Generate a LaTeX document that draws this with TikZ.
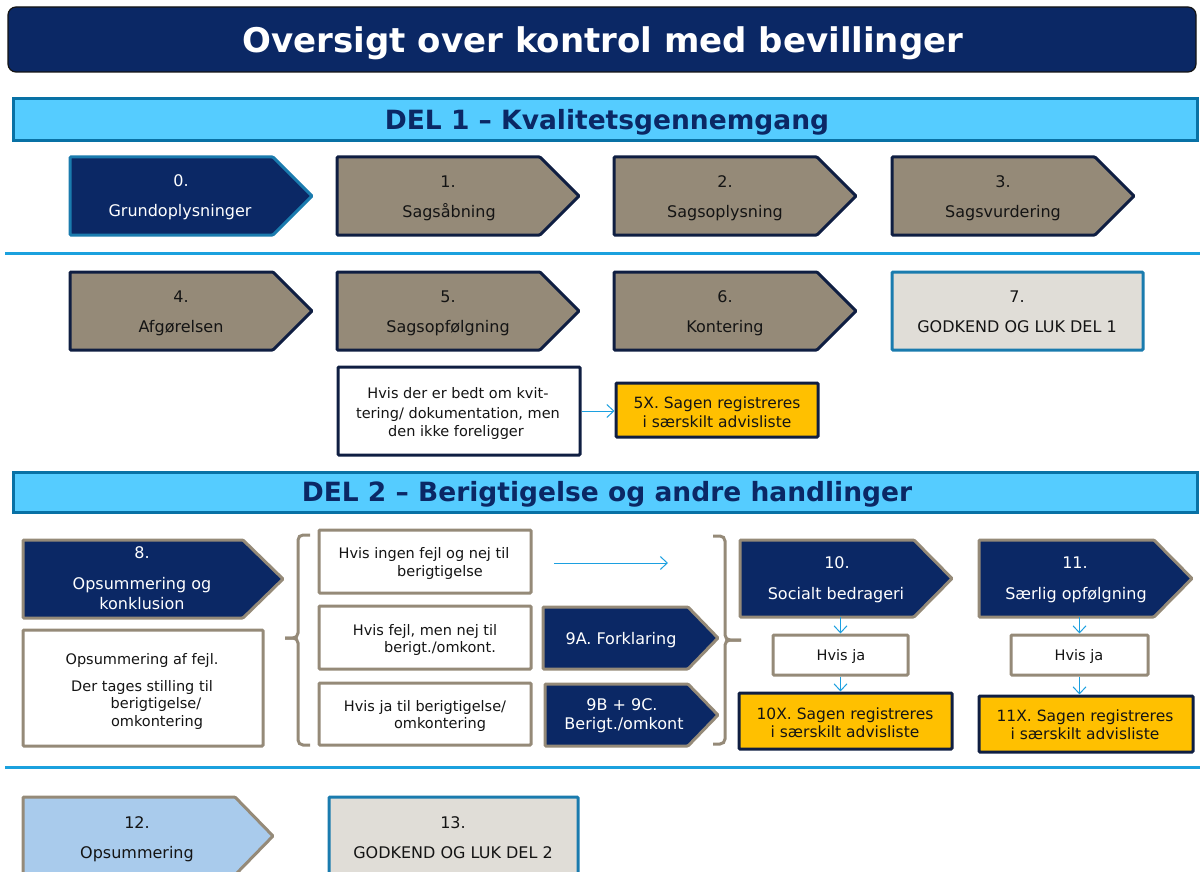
\documentclass[tikz,border=0pt]{standalone}
\usepackage{fontspec}
\setmainfont{DejaVu Sans}
\usetikzlibrary{arrows.meta,fit}

\definecolor{navy}{HTML}{0B2865}
\definecolor{inkdark}{HTML}{0F1E42}
\definecolor{taupe}{HTML}{958A78}
\definecolor{barfill}{HTML}{55CCFF}
\definecolor{barline}{HTML}{0871A5}
\definecolor{stepblue}{HTML}{1A7BAE}
\definecolor{paleground}{HTML}{E0DDD7}
\definecolor{advis}{HTML}{FFC000}
\definecolor{flow}{HTML}{1CA0E0}
\definecolor{rule}{HTML}{1BA1DE}
\definecolor{summary}{HTML}{A9CBEC}
\definecolor{ink}{HTML}{141414}

% shape with an arrow point on the right: name, style, x1, y1, x2, y2, point length
\newcommand\pent[7]{%
  \path[#2] (#3,#4) -- ({#5-#7},#4) -- (#5,{(#4+#6)/2}) -- ({#5-#7},#6) -- (#3,#6) -- cycle;
  \node[fit={(#3,#4) (#5,#6)}, inner sep=0pt] (#1) {};}
% plain box: name, style, corner, corner
\newcommand\rbox[4]{\node[fit={#3 #4}, inner sep=0pt, #2] (#1) {};}
% one line of text, centred on (x,y): options, name, x, y, text
\newcommand\txt[5][]{\node[lbl,#1] (#2) at (#3,#4) {#5};}

\tikzset{
  frame/.style={line width=3pt, rounded corners=1pt},
  darkstep/.style={frame, fill=navy, draw=stepblue},
  greystep/.style={frame, fill=taupe, draw=inkdark},
  navystep/.style={frame, fill=navy, draw=taupe},
  lightstep/.style={frame, fill=summary, draw=taupe},
  closebox/.style={frame, fill=paleground, draw=stepblue},
  notebox/.style={frame, fill=white, draw=inkdark},
  whitebox/.style={frame, fill=white, draw=taupe},
  advisbox/.style={frame, fill=advis, draw=inkdark},
  partbar/.style={line width=3pt, fill=barfill, draw=barline},
  lbl/.style={inner sep=0pt, anchor=center, text height=11.6pt, text depth=0pt, font=\fontsize{16}{19}\selectfont, text=ink},
  wtxt/.style={text=white},
  small/.style={font=\fontsize{14.5}{17}\selectfont, text height=10.6pt},
  adv/.style={font=\fontsize{15.5}{18}\selectfont, text height=11.3pt},
  conn/.style={draw=flow, line width=1pt, -{Straight Barb[length=7pt,width=13pt,line width=1pt]}},
  brace/.style={draw=taupe, line width=3pt, rounded corners=5pt},
  sepline/.style={draw=rule, line width=3pt},
  parttitle/.style={inner sep=0pt, anchor=base, text=navy, font=\fontsize{26.5}{31}\selectfont\bfseries}
}

\begin{document}
\begin{tikzpicture}[x=1pt,y=-1pt]
\useasboundingbox (0,0) rectangle (1200,872);
\clip (0,0) rectangle (1200,872);

% heading
\rbox{title}{fill=navy, draw=ink, line width=1.2pt, rounded corners=8pt}{(8,7)}{(1196,72)}
\node[inner sep=0pt, anchor=base, text=white, font=\fontsize{34}{40}\selectfont\bfseries] (titletext) at (603,52.4) {Oversigt over kontrol med bevillinger};

% part 1
\rbox{del1}{partbar}{(13,99)}{(1197,141)}
\node[parttitle] (del1text) at (607,129.5) {DEL 1 – Kvalitetsgennemgang};

\pent{s0}{darkstep}{70}{157}{312}{235}{39}
\pent{s1}{greystep}{337}{157}{579}{235}{39}
\pent{s2}{greystep}{614}{157}{856}{235}{39}
\pent{s3}{greystep}{892}{157}{1134}{235}{39}
\txt[wtxt]{s0a}{181}{181}{0.}
\txt[wtxt]{s0b}{180}{211}{Grundoplysninger}
\txt{s1a}{448}{182}{1.}
\txt{s1b}{449}{212}{Sagsåbning}
\txt{s2a}{725}{182}{2.}
\txt{s2b}{725}{212}{Sagsoplysning}
\txt{s3a}{1003}{182}{3.}
\txt{s3b}{1003}{212}{Sagsvurdering}

\draw[sepline] (5,253) -- (1200,253);

\pent{s4}{greystep}{70}{272}{312}{350}{39}
\pent{s5}{greystep}{337}{272}{579}{350}{39}
\pent{s6}{greystep}{614}{272}{856}{350}{39}
\rbox{s7}{closebox}{(892,272)}{(1143,350)}
\txt{s4a}{181}{297}{4.}
\txt{s4b}{181}{327}{Afgørelsen}
\txt{s5a}{448}{297}{5.}
\txt{s5b}{448}{327}{Sagsopfølgning}
\txt{s6a}{725}{297}{6.}
\txt{s6b}{725}{327}{Kontering}
\txt{s7a}{1017}{297}{7.}
\txt{s7b}{1017}{327}{GODKEND OG LUK DEL 1}

\rbox{note}{notebox}{(338,367)}{(580,455)}
\txt[small]{note1}{458}{393}{Hvis der er bedt om kvit-}
\txt[small]{note2}{458}{413}{tering/ dokumentation, men}
\txt[small]{note3}{456}{431}{den ikke foreligger}
\rbox{x5}{advisbox}{(616,383)}{(818,437)}
\txt[adv]{x5a}{717}{403}{5X. Sagen registreres}
\txt[adv]{x5b}{717}{422}{i særskilt advisliste}
\draw[conn] (note.east) -- (note.east -| x5.west);

% part 2
\rbox{del2}{partbar}{(13,472)}{(1197,512)}
\node[parttitle] (del2text) at (607,501.5) {DEL 2 – Berigtigelse og andre handlinger};

\pent{s8}{navystep}{23}{540}{283}{618}{40}
\txt[wtxt]{s8a}{142}{553}{8.}
\txt[wtxt]{s8b}{142}{584}{Opsummering og}
\txt[wtxt]{s8c}{142}{604}{konklusion}
\rbox{s8box}{whitebox}{(23,630)}{(263,746)}
\txt[small]{s8t1}{142}{659}{Opsummering af fejl.}
\txt[small]{s8t2}{142}{686}{Der tages stilling til}
\txt[small]{s8t3}{156}{703}{berigtigelse/}
\txt[small]{s8t4}{157}{721}{omkontering}

\draw[brace] (310,535) -| (298,638) -- (285,638);
\draw[brace] (285,638) -- (298,638) |- (310,745);
\draw[brace] (713,536) -| (725,640) -- (741,640);
\draw[brace] (741,640) -- (725,640) |- (713,744);

\rbox{ca}{whitebox}{(319,530)}{(531,593)}
\txt[small]{ca1}{424}{553}{Hvis ingen fejl og nej til}
\txt[small]{ca2}{440}{571}{berigtigelse}
\rbox{cb}{whitebox}{(319,606)}{(531,669)}
\txt[small]{cb1}{425}{630}{Hvis fejl, men nej til}
\txt[small]{cb2}{440}{647}{berigt./omkont.}
\rbox{cc}{whitebox}{(319,683)}{(531,745)}
\txt[small]{cc1}{425}{706}{Hvis ja til berigtigelse/}
\txt[small]{cc2}{440}{723}{omkontering}

\coordinate (skipfrom) at (554,563);
\coordinate (skipto) at (668,563);
\draw[conn] (skipfrom) -- (skipto);

\pent{s9a}{navystep}{543}{607}{718}{669}{30}
\txt[wtxt]{s9at}{621}{639}{9A. Forklaring}
\pent{s9bc}{navystep}{545}{684}{718}{746}{30}
\txt[wtxt]{s9bc1}{622}{705}{9B + 9C.}
\txt[wtxt]{s9bc2}{624}{724}{Berigt./omkont}

\pent{s10}{navystep}{740}{540}{952}{617}{38}
\txt[wtxt]{s10a}{837}{563}{10.}
\txt[wtxt]{s10b}{836}{594}{Socialt bedrageri}
\rbox{hj10}{whitebox}{(773,635)}{(908,675)}
\txt[small]{hj10t}{841}{655}{Hvis ja}
\rbox{x10}{advisbox}{(739,693)}{(952,749)}
\txt[adv]{x10a}{845}{714}{10X. Sagen registreres}
\txt[adv]{x10b}{845}{732}{i særskilt advisliste}
\draw[conn] (hj10.north |- s10.south) -- (hj10.north);
\draw[conn] (hj10.south) -- (hj10.south |- x10.north);

\pent{s11}{navystep}{979}{540}{1192}{617}{38}
\txt[wtxt]{s11a}{1075}{563}{11.}
\txt[wtxt]{s11b}{1076}{594}{Særlig opfølgning}
\rbox{hj11}{whitebox}{(1011,635)}{(1148,675)}
\txt[small]{hj11t}{1079}{655}{Hvis ja}
\rbox{x11}{advisbox}{(979,696)}{(1193,752)}
\txt[adv]{x11a}{1085}{716}{11X. Sagen registreres}
\txt[adv]{x11b}{1085}{734}{i særskilt advisliste}
\draw[conn] (hj11.north |- s11.south) -- (hj11.north);
\draw[conn] (hj11.south) -- (hj11.south |- x11.north);

\draw[sepline] (5,767) -- (1200,767);

\pent{s12}{lightstep}{23}{797}{273}{875}{38}
\txt{s12a}{137}{823}{12.}
\txt{s12b}{137}{853}{Opsummering}
\rbox{s13}{closebox}{(329,797)}{(578,900)}
\txt{s13a}{453}{823}{13.}
\txt{s13b}{453}{853}{GODKEND OG LUK DEL 2}
\end{tikzpicture}
\end{document}
